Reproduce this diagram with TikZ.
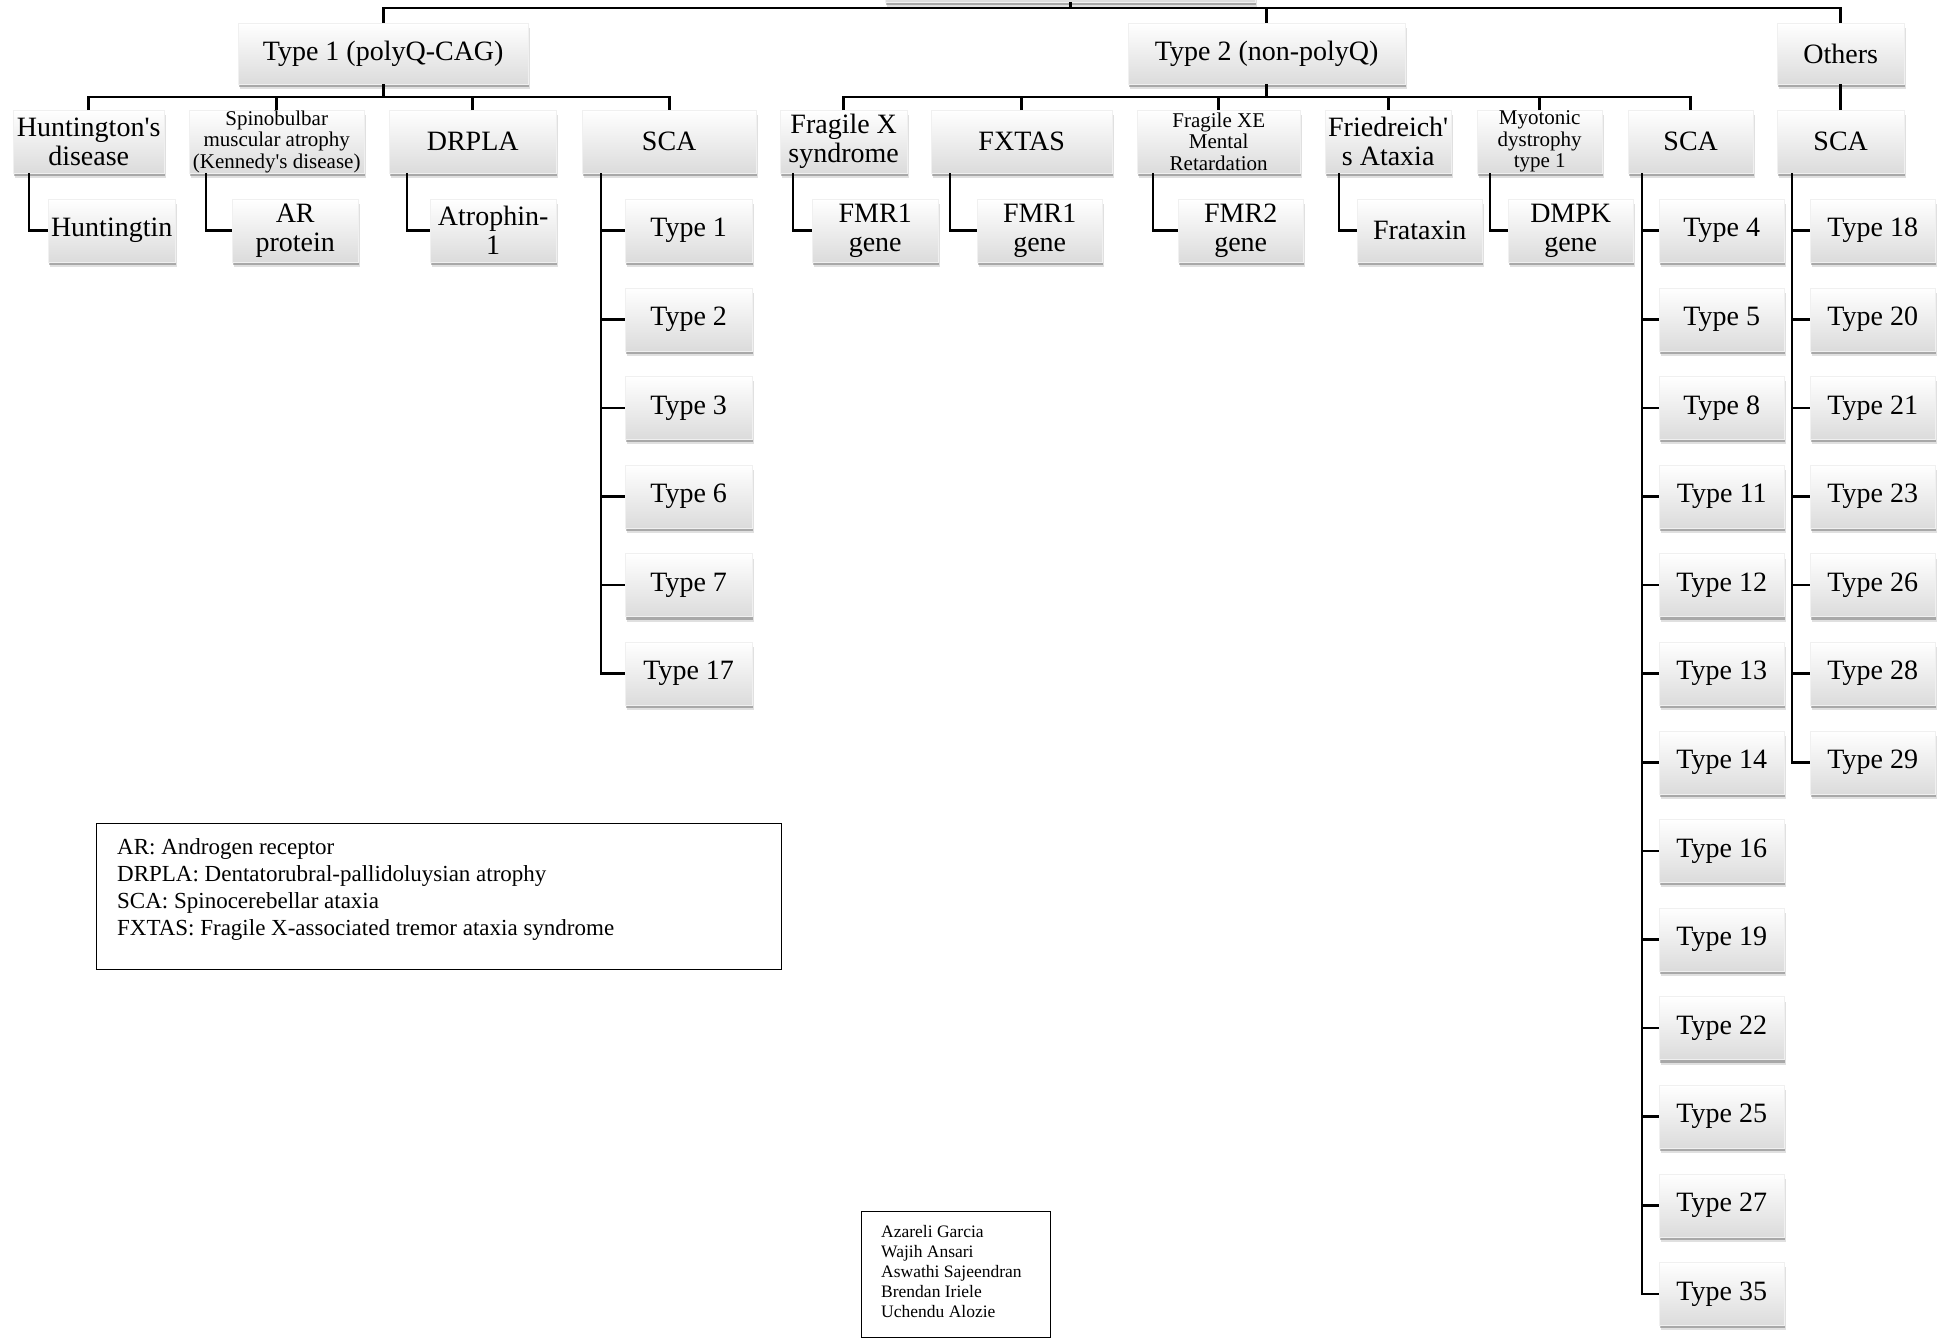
\documentclass[tikz,border=0pt]{standalone}
\usepackage{fontspec}
\setmainfont{Liberation Serif}
\usetikzlibrary{shadows}
\newcommand\bigf{\fontsize{28}{29}\selectfont}
\newcommand\smallf{\fontsize{21}{21.5}\selectfont}
\newcommand\legf{\fontsize{23}{27}\selectfont}
\newcommand\autf{\fontsize{17.5}{20}\selectfont}
\newcommand\apos{\textquotesingle}
\tikzset{
  bx/.style={anchor=north west, inner sep=0pt, align=center,
    top color=white, bottom color=black!14, draw=black!6, line width=0.4pt,
    font=\bigf, minimum height=63pt,
    drop shadow={shadow xshift=2pt, shadow yshift=-5pt, opacity=0.12, fill=black},
    drop shadow={shadow xshift=1pt, shadow yshift=-3pt, opacity=0.25, fill=black}},
  sm/.style={font=\smallf},
  ln/.style={line width=2.6pt, draw=black},
  frame/.style={draw=black, line width=1.2pt, anchor=north west, inner sep=0pt}
}
\begin{document}
\begin{tikzpicture}[x=1pt,y=-1pt]
\useasboundingbox (0,0) rectangle (1938,1338);
% root (only its bottom edge is visible)
\node[bx, minimum width=370pt] (root) at (885,-61) {};
% level 1
\node[bx, minimum width=290pt, minimum height=61pt] (t1) at (238,23) {Type 1 (polyQ-CAG)};
\node[bx, minimum width=277pt, minimum height=61pt] (t2) at (1128,23) {Type 2 (non-polyQ)};
\node[bx, minimum width=127pt, minimum height=61pt] (ot) at (1777,23) {Others};
% level 2
\node[bx, minimum width=151pt] (hd) at (13,110) {Huntington\apos s\\disease};
\node[bx, sm, minimum width=175pt] (sb) at (189,110) {Spinobulbar\\muscular atrophy\\(Kennedy\apos s disease)};
\node[bx, minimum width=167pt] (dr) at (389,110) {DRPLA};
\node[bx, minimum width=174pt] (sa) at (582,110) {SCA};
\node[bx, minimum width=127pt] (fx) at (780,110) {Fragile X\\syndrome};
\node[bx, minimum width=181pt] (ft) at (931,110) {FXTAS};
\node[bx, sm, minimum width=163pt] (fe) at (1137,110) {Fragile XE\\Mental\\Retardation};
\node[bx, minimum width=126pt] (fr) at (1325,110) {Friedreich\apos\\s Ataxia};
\node[bx, sm, minimum width=125pt] (my) at (1477,110) {Myotonic\\dystrophy\\type 1};
\node[bx, minimum width=125pt] (sc) at (1628,110) {SCA};
\node[bx, minimum width=127pt] (so) at (1777,110) {SCA};
% level 3
\node[bx, minimum width=127pt] (htt) at (48,199) {Huntingtin};
\node[bx, minimum width=126pt] (ar) at (232,199) {AR\\protein};
\node[bx, minimum width=126pt] (at) at (430,199) {Atrophin-\\1};
\node[bx, minimum width=126pt] (fm1) at (812,199) {FMR1\\gene};
\node[bx, minimum width=125pt] (fm1b) at (977,199) {FMR1\\gene};
\node[bx, minimum width=125pt] (fm2) at (1178,199) {FMR2\\gene};
\node[bx, minimum width=125pt] (fra) at (1357,199) {Frataxin};
\node[bx, minimum width=125pt] (dm) at (1508,199) {DMPK\\gene};
% buses
\coordinate (b0) at (0,8);
\coordinate (b1) at (0,97);
\draw[ln] (root.south) -- (root.south |- b0);
\draw[ln] (t1.north) |- (ot.north |- b0) -- (ot.north);
\draw[ln] (t2.north) -- (t2.north |- b0);
\draw[ln] (t1.south) -- (t1.south |- b1);
\draw[ln] (hd.north) |- (sa.north |- b1) -- (sa.north);
\draw[ln] (sb.north) -- (sb.north |- b1);
\draw[ln] (dr.north) -- (dr.north |- b1);
\draw[ln] (t2.south) -- (t2.south |- b1);
\draw[ln] (fx.north) |- (sc.north |- b1) -- (sc.north);
\draw[ln] (ft.north) -- (ft.north |- b1);
\draw[ln] (fe.north) -- (fe.north |- b1);
\draw[ln] (fr.north) -- (fr.north |- b1);
\draw[ln] (my.north) -- (my.north |- b1);
\draw[ln] (ot.south) -- (so.north);
% elbows
\draw[ln] ([xshift=16pt]hd.south west) |- (htt.west);
\draw[ln] ([xshift=17pt]sb.south west) |- (ar.west);
\draw[ln] ([xshift=18pt]dr.south west) |- (at.west);
\draw[ln] ([xshift=13pt]fx.south west) |- (fm1.west);
\draw[ln] ([xshift=19pt]ft.south west) |- (fm1b.west);
\draw[ln] ([xshift=16pt]fe.south west) |- (fm2.west);
\draw[ln] ([xshift=14pt]fr.south west) |- (fra.west);
\draw[ln] ([xshift=13pt]my.south west) |- (dm.west);
% SCA (type 1) children
\foreach \t [count=\i from 0] in {1,2,3,6,7,17} {
  \node[bx, minimum width=127pt] (a\t) at (625,{199+88.6*\i}) {Type \t};
  \draw[ln] ([xshift=19pt]sa.south west) |- (a\t.west);
}
% SCA (type 2) children
\foreach \t [count=\i from 0] in {4,5,8,11,12,13,14,16,19,22,25,27,35} {
  \node[bx, minimum width=125pt] (c\t) at (1659,{199+88.6*\i}) {Type \t};
  \draw[ln] ([xshift=14pt]sc.south west) |- (c\t.west);
}
% Others SCA children
\foreach \t [count=\i from 0] in {18,20,21,23,26,28,29} {
  \node[bx, minimum width=125pt] (o\t) at (1810,{199+88.6*\i}) {Type \t};
  \draw[ln] ([xshift=15pt]so.south west) |- (o\t.west);
}
% legend
\node[frame, minimum width=685pt, minimum height=146pt] (leg) at (96,823) {};
\node[anchor=north west, align=left, inner sep=0pt, font=\legf] (legt) at (117,838)
  {AR: Androgen receptor\\DRPLA: Dentatorubral-pallidoluysian atrophy\\SCA: Spinocerebellar ataxia\\FXTAS: Fragile X-associated tremor ataxia syndrome};
% authors
\node[frame, minimum width=189pt, minimum height=126pt] (au) at (861,1211) {};
\node[anchor=north west, align=left, inner sep=0pt, font=\autf] (aut) at (881,1225)
  {Azareli Garcia\\Wajih Ansari\\Aswathi Sajeendran\\Brendan Iriele\\Uchendu Alozie};
\end{tikzpicture}
\end{document}
